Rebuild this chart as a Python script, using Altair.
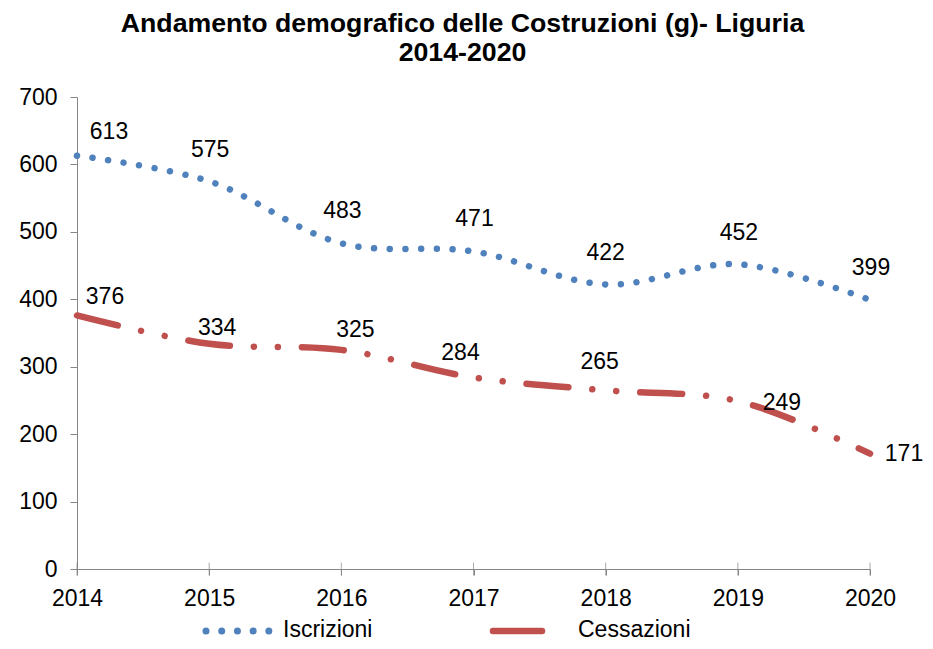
import altair as alt
import pandas as pd

years = [2014, 2015, 2016, 2017, 2018, 2019, 2020]
iscrizioni = [613, 575, 483, 471, 422, 452, 399]
cessazioni = [376, 334, 325, 284, 265, 249, 171]
series = ["Iscrizioni", "Cessazioni"]
colors = ["#4F81BD", "#C0504D"]
y_ticks = [0, 100, 200, 300, 400, 500, 600, 700]
title_lines = ["Andamento demografico delle Costruzioni (g)- Liguria", "2014-2020"]

df = pd.DataFrame({
    "anno": years * 2,
    "valore": iscrizioni + cessazioni,
    "serie": [series[0]] * len(years) + [series[1]] * len(years),
})
ticks_df = pd.DataFrame({"anno": years})

FONT = "Liberation Sans, Arial, sans-serif"
AXIS = "#868686"
BLUE_DASH = [0.01, 15.7]
RED_DASH = [42, 24, 0.01, 24, 0.01, 24]

x_enc = alt.X(
    "anno:Q",
    scale=alt.Scale(domain=[years[0], years[-1]], nice=False, zero=False),
    axis=alt.Axis(values=years, format="d", title=None, grid=False,
                  domainColor=AXIS, tickColor=AXIS, tickSize=6,
                  labelPadding=12, labelFontSize=23, labelColor="black",
                  labelFont=FONT, labelFlush=False),
)
y_enc = alt.Y(
    "valore:Q",
    scale=alt.Scale(domain=[0, 700], nice=False),
    axis=alt.Axis(values=y_ticks, title=None, grid=False,
                  domainColor=AXIS, tickColor=AXIS, tickSize=7,
                  labelPadding=13, labelFontSize=23, labelColor="black",
                  labelFont=FONT),
)

base = alt.Chart(df)

lines = base.mark_line(interpolate="catmull-rom", strokeCap="round",
                       strokeWidth=6.5).encode(
    x=x_enc,
    y=y_enc,
    color=alt.Color("serie:N", scale=alt.Scale(domain=series, range=colors),
                    legend=None),
    strokeDash=alt.StrokeDash(
        "serie:N",
        scale=alt.Scale(domain=series, range=[BLUE_DASH, RED_DASH]),
        legend=None),
)

xticks = alt.Chart(ticks_df).mark_tick(
    orient="vertical", size=13, thickness=1, color=AXIS
).encode(x="anno:Q", y=alt.datum(0))


def label(serie, anno, dx, dy):
    return base.transform_filter(
        (alt.datum.serie == serie) & (alt.datum.anno == anno)
    ).mark_text(dx=dx, dy=dy, fontSize=23, font=FONT, color="black",
                align="center", baseline="middle").encode(
        x="anno:Q", y="valore:Q", text="valore:Q")


labels = [
    label("Iscrizioni", 2014, 32, -24),
    label("Iscrizioni", 2015, 1, -31),
    label("Iscrizioni", 2016, 1, -32),
    label("Iscrizioni", 2017, 1, -32),
    label("Iscrizioni", 2018, 0, -31),
    label("Iscrizioni", 2019, 1, -31),
    label("Iscrizioni", 2020, 1, -32),
    label("Cessazioni", 2014, 28, -18),
    label("Cessazioni", 2015, 8, -16),
    label("Cessazioni", 2016, 14, -20),
    label("Cessazioni", 2017, -13, -25),
    label("Cessazioni", 2018, -6, -28),
    label("Cessazioni", 2019, 44, 2),
    label("Cessazioni", 2020, 34, 0),
]

# legend drawn below the plot area
LEG_Y = 534
leg_src = alt.Chart(pd.DataFrame({"k": [0]}))
leg_blue = leg_src.mark_rule(color=colors[0], strokeWidth=7, strokeCap="round",
                             strokeDash=BLUE_DASH).encode(
    x=alt.value(129), x2=alt.value(193), y=alt.value(LEG_Y))
leg_red = leg_src.mark_rule(color=colors[1], strokeWidth=6.5,
                            strokeCap="round").encode(
    x=alt.value(416), x2=alt.value(465), y=alt.value(LEG_Y))
leg_txt_blue = leg_src.mark_text(fontSize=23, font=FONT, color="black",
                                 align="left", baseline="middle").encode(
    x=alt.value(206), y=alt.value(LEG_Y - 1), text=alt.value(series[0]))
leg_txt_red = leg_src.mark_text(fontSize=23, font=FONT, color="black",
                                align="left", baseline="middle").encode(
    x=alt.value(501), y=alt.value(LEG_Y - 1), text=alt.value(series[1]))

chart = alt.layer(xticks, lines, *labels,
                  leg_blue, leg_red, leg_txt_blue, leg_txt_red).properties(
    width=793,
    height=472,
    autosize=alt.AutoSizeParams(type="none"),
    padding={"left": 69, "top": 89, "right": 55, "bottom": 72},
    title=alt.TitleParams(
        text=title_lines, fontSize=26.7, font=FONT, fontWeight="bold",
        color="black", anchor="middle", dx=-11, dy=38, offset=30,
        baseline="bottom", lineHeight=29,
    ),
).configure_view(stroke=None)

chart.save("out.html", embed_options={"renderer": "svg", "actions": False})
